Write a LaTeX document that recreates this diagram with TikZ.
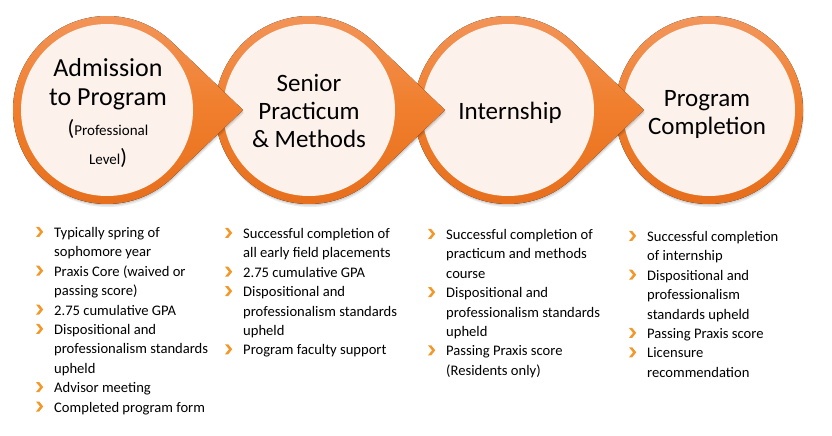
\documentclass[tikz,border=0pt]{standalone}
\usepackage{fontspec}
\setmainfont{Carlito}
\definecolor{ringtop}{RGB}{242,150,92}
\definecolor{ringmid}{RGB}{240,126,44}
\definecolor{ringbot}{RGB}{230,110,28}
\definecolor{innerfill}{RGB}{252,241,235}
\definecolor{bulc}{RGB}{243,152,40}
\newcommand{\tdpath}[2]{(#1,#2) ++(46.3:94) arc[start angle=46.3,end angle=313.7,radius=94] -- (#1+136,#2) -- cycle}
\newcommand{\cirpath}[2]{(#1,#2) circle[radius=94]}
\newcommand{\bul}{\llap{\tikz[baseline=0pt]\fill[bulc] (0pt,0.6pt) -- (3.2pt,0.6pt) -- (7.2pt,5.6pt) -- (3.2pt,10.6pt) -- (0pt,10.6pt) -- (4pt,5.6pt) -- cycle;\hspace{11pt}}}
\begin{document}
\begin{tikzpicture}[x=1pt,y=1pt,
  ring/.style={top color=ringtop, bottom color=ringbot, middle color=ringmid},
  innercirc/.style={circle, fill=innerfill, minimum size=172pt, inner sep=0pt},
  title/.style={align=center, font=\fontsize{25}{28}\selectfont, text=black, inner sep=0pt},
  col/.style={align=left, anchor=base west, font=\fontsize{14.6}{19.4}\selectfont, inner sep=0pt, text=black}]
\useasboundingbox[fill=white] (0,0) rectangle (832,-436);

% circles drawn right to left so each tip lies on the next circle
\fill[black,opacity=0.10] \cirpath{709.5}{-111.5};
\fill[black,opacity=0.08] \cirpath{710}{-113};
\fill[ring] \cirpath{709}{-110};
\node[innercirc] (c4) at (709,-110) {};

\foreach \cx/\n in {508/3, 309/2, 107/1}{
  \fill[black,opacity=0.10] \tdpath{\cx+0.5}{-111.5};
  \fill[black,opacity=0.08] \tdpath{\cx+1}{-113};
  \fill[ring] \tdpath{\cx}{-110};
  \node[innercirc] (c\n) at (\cx,-110) {};
}

% circle titles
\node[title, font=\fontsize{26}{29.5}\selectfont] (t1) at (108,-113)
  {Admission\\to Program\\{\fontsize{22}{22}\selectfont(}{\fontsize{15}{15}\selectfont Professional}\\{\fontsize{15}{15}\selectfont Level}{\fontsize{22}{22}\selectfont)}};
\node[title] (t2) at (309,-111) {Senior\\Practicum\\\& Methods};
\node[title] (t3) at (510,-113) {Internship};
\node[title] (t4) at (707,-114) {Program\\Completion};

% requirement lists (base anchor = baseline of the last line)
\node[col] (l1) at (54,-412.1) {\bul Typically spring of\\sophomore year\\\bul Praxis Core (waived or\\passing score)\\\bul 2.75 cumulative GPA\\\bul Dispositional and\\professionalism standards\\upheld\\\bul Advisor meeting\\\bul Completed program form};
\node[col] (l2) at (243,-354.9) {\bul Successful completion of\\all early field placements\\\bul 2.75 cumulative GPA\\\bul Dispositional and\\professionalism standards\\upheld\\\bul Program faculty support};
\node[col] (l3) at (446,-375.3) {\bul Successful completion of\\practicum and methods\\course\\\bul Dispositional and\\professionalism standards\\upheld\\\bul Passing Praxis score\\(Residents only)};
\node[col] (l4) at (647,-377.3) {\bul Successful completion\\of internship\\\bul Dispositional and\\professionalism\\standards upheld\\\bul Passing Praxis score\\\bul Licensure\\recommendation};
\end{tikzpicture}
\end{document}
